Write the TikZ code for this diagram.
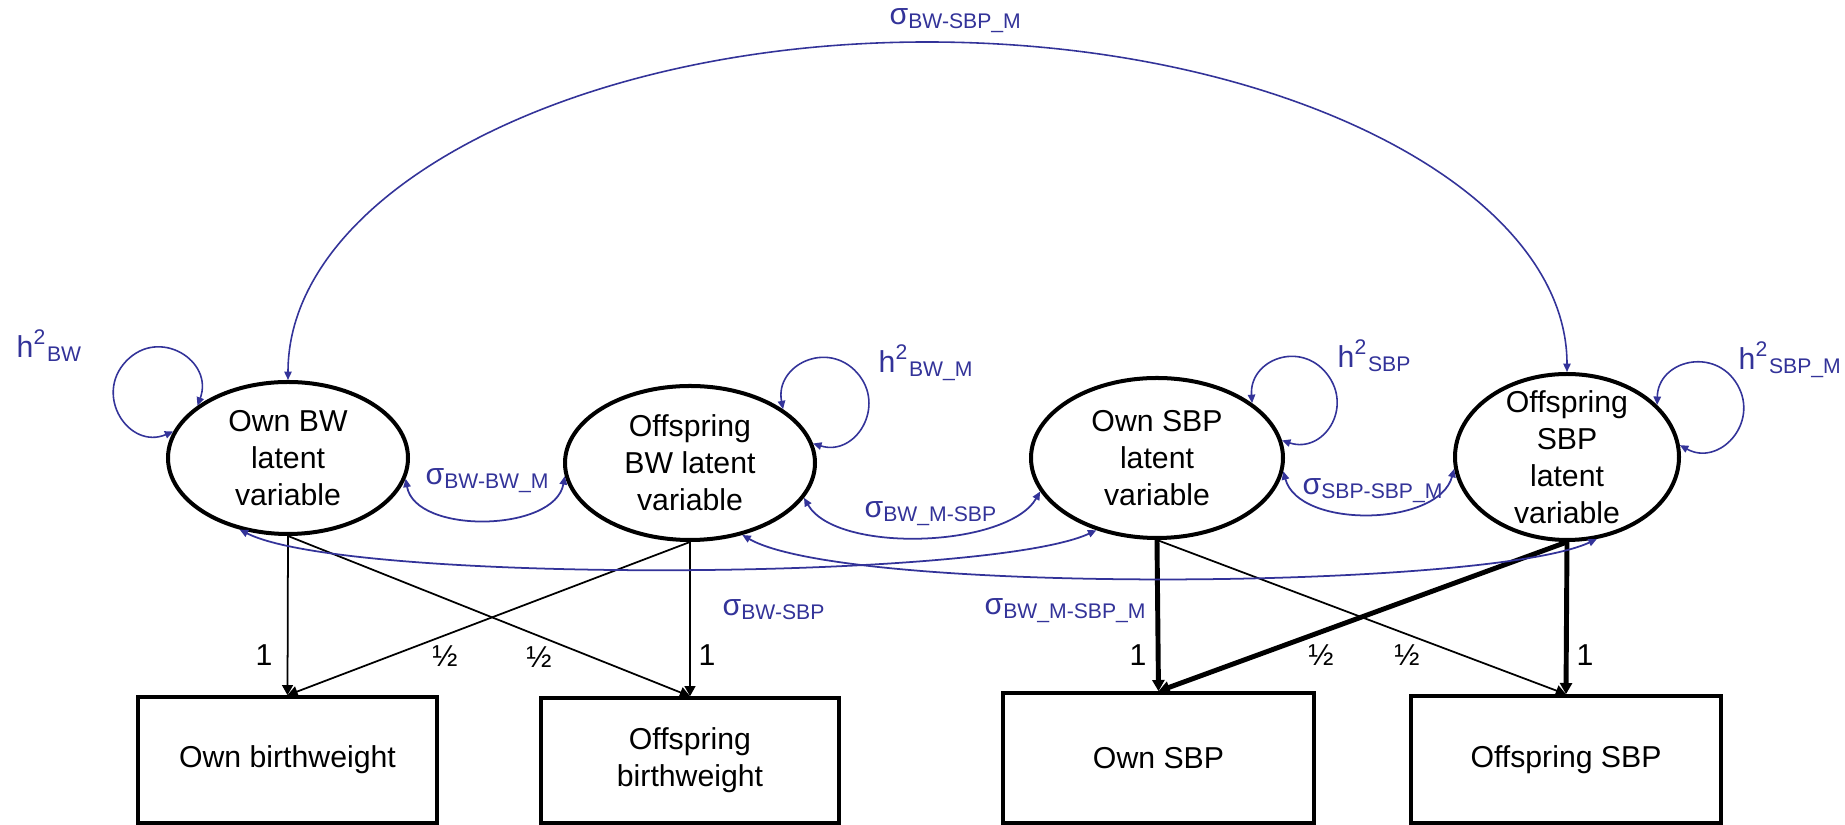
\documentclass[tikz,border=0pt]{standalone}
\usepackage{fontspec}
\setmainfont{Liberation Sans}
\usetikzlibrary{shapes.geometric,arrows.meta}
\definecolor{pathblue}{RGB}{51,51,153}
\begin{document}
\begin{tikzpicture}[x=0.1mm,y=0.1mm,
  every node/.style={font=\fontsize{8.6}{10.5}\selectfont, inner sep=0pt},
  latent/.style={ellipse, draw, line width=1.14pt},
  observed/.style={rectangle, draw, line width=1pt, align=center},
  nodetext/.style={align=center},
  load/.style={draw, line width=0.5pt, -{Triangle[length=2.9pt,width=3.1pt]}},
  heavyload/.style={draw, line width=1.4pt, -{Triangle[length=3.2pt,width=3.4pt]}},
  cov/.style={draw=pathblue, line width=0.5pt,
    {Triangle[length=2.4pt,width=2.1pt]}-{Triangle[length=2.4pt,width=2.1pt]}},
  varloop/.style={cov, line width=0.45pt},
  param/.style={text=pathblue, anchor=base west},
  coef/.style={}
]
\fill[white] (0,0) rectangle (1845,825);
\useasboundingbox (0,0) rectangle (1845,825);

% latent variables
\node[latent, minimum width=24mm, minimum height=15.2mm] (ownbw) at (288,367) {};
\node[latent, minimum width=25mm, minimum height=15.4mm] (offbw) at (690,362) {};
\node[latent, minimum width=25.2mm, minimum height=16mm] (ownsbp) at (1157,367) {};
\node[latent, minimum width=22.4mm, minimum height=16.6mm] (offsbp) at (1567,368) {};
\node[nodetext] (ownbw-t) at (ownbw) {Own BW\\latent\\variable};
\node[nodetext] (offbw-t) at (offbw) {Offspring\\BW latent\\variable};
\node[nodetext] (ownsbp-t) at (ownsbp) {Own SBP\\latent\\variable};
\node[nodetext] (offsbp-t) at (offsbp) {Offspring\\SBP\\latent\\variable};

% observed measures
\node[observed, minimum width=29.9mm, minimum height=12.6mm] (ownbwbox) at (287.5,65) {Own birthweight};
\node[observed, minimum width=29.8mm, minimum height=12.5mm] (offbwbox) at (690,64.5) {Offspring\\birthweight};
\node[observed, minimum width=31.1mm, minimum height=13mm] (ownsbpbox) at (1158.5,67) {Own SBP};
\node[observed, minimum width=31mm, minimum height=12.7mm] (offsbpbox) at (1566,65.5) {Offspring SBP};

% loadings
\draw[load] (ownbw.south) -- (ownbwbox.north);
\draw[load] (ownbw.south) -- (offbwbox.north);
\draw[load] (offbw.south) -- (offbwbox.north);
\draw[load] (offbw.south) -- (ownbwbox.north);
\draw[heavyload] (ownsbp.south) -- (ownsbpbox.north);
\draw[load] (ownsbp.south) -- (offsbpbox.north);
\draw[heavyload] (offsbp.south) -- (offsbpbox.north);
\draw[heavyload] (offsbp.south) -- (ownsbpbox.north);

\node[coef] (l1) at (264,170) {1};
\node[coef] (l2) at (445,169) {½};
\node[coef] (l3) at (539,168) {½};
\node[coef] (l4) at (707,170) {1};
\node[coef] (l5) at (1138,170) {1};
\node[coef] (l6) at (1321,170) {½};
\node[coef] (l7) at (1407,170) {½};
\node[coef] (l8) at (1585,170) {1};

% variance loops
\coordinate (loopA) at (126.2,463.9);
\coordinate (loopB) at (857,452.3);
\coordinate (loopC) at (1327,451);
\coordinate (loopD) at (1737.4,440.2);
\draw[varloop] (ownbw.150) .. controls +(69.7:47.8) and +(46.3:47.8) .. (loopA)
  .. controls +(226.3:47.8) and +(202.9:47.8) .. (ownbw.167);
\draw[varloop] (offbw.30) .. controls +(101:44.7) and +(131.8:44.7) .. (loopB)
  .. controls +(-48.2:44.7) and +(-17.4:44.7) .. (offbw.9);
\draw[varloop] (ownsbp.30) .. controls +(94:43.4) and +(128:43.4) .. (loopC)
  .. controls +(-52:43.4) and +(-18.1:43.4) .. (ownsbp.8);
\draw[varloop] (offsbp.30) .. controls +(89:44.7) and +(120:44.7) .. (loopD)
  .. controls +(-60:44.7) and +(-29.1:44.7) .. (offsbp.6);

% covariances
\coordinate (apex) at (927,783);
\draw[cov, line width=0.45pt] (ownbw.north) .. controls +(0,188) and +(-353,0) .. (apex)
  .. controls +(353,0) and +(0,183) .. (offsbp.north);
\draw[cov] (ownbw.-10) .. controls +(-80:57) and +(-100:57) .. (offbw.186);
\draw[cov] (offbw.-17) .. controls +(-60:65) and +(-120:65) .. (ownsbp.196);
\draw[cov] (ownsbp.-6) .. controls +(-75:60) and +(-105:60) .. (offsbp.186);
\draw[cov] (ownbw.236) .. controls +(-27:120) and +(-155:120) .. (ownsbp.230);
\draw[cov] (offbw.-54) .. controls +(-30:120) and +(-155:120) .. (offsbp.-70);

% parameter labels
\node[param] (hbw) at (16,467) {h\textsuperscript{2}\textsubscript{BW}};
\node[param] (hbwm) at (878,452) {h\textsuperscript{2}\textsubscript{BW\_M}};
\node[param] (hsbp) at (1337,457) {h\textsuperscript{2}\textsubscript{SBP}};
\node[param] (hsbpm) at (1738,455) {h\textsuperscript{2}\textsubscript{SBP\_M}};
\node[param] (s1) at (889,800) {σ\textsubscript{BW-SBP\_M}};
\node[param] (s2) at (425,340) {σ\textsubscript{BW-BW\_M}};
\node[param] (s3) at (864,307) {σ\textsubscript{BW\_M-SBP}};
\node[param] (s4) at (1302,330) {σ\textsubscript{SBP-SBP\_M}};
\node[param] (s5) at (722,209) {σ\textsubscript{BW-SBP}};
\node[param] (s6) at (984,210) {σ\textsubscript{BW\_M-SBP\_M}};
\end{tikzpicture}
\end{document}
